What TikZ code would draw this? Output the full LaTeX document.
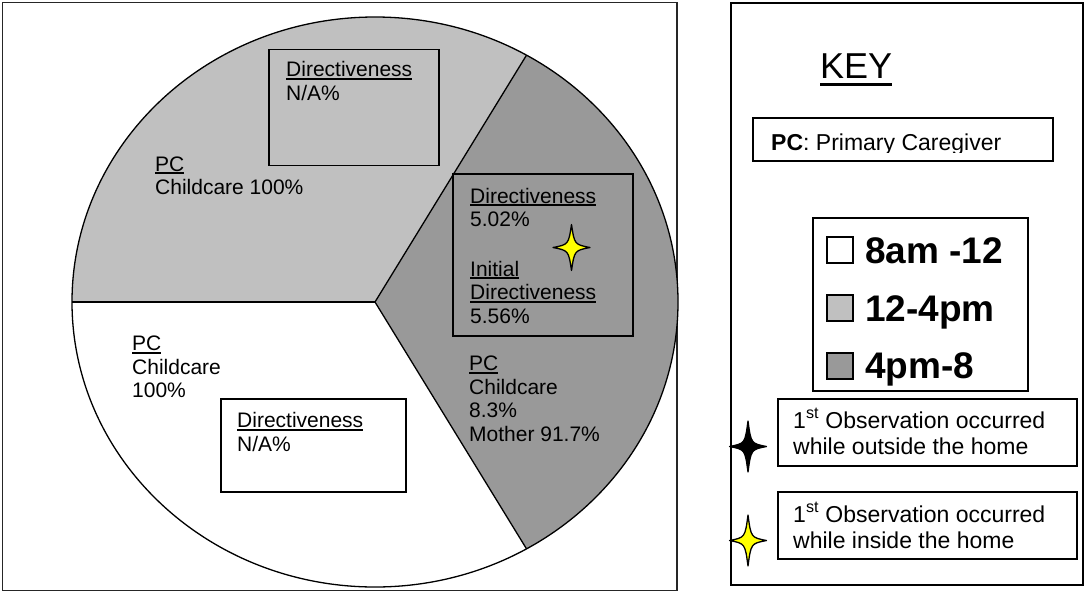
\documentclass[tikz,border=0pt]{standalone}
\usepackage{fontspec}
\setmainfont{Liberation Sans}
\definecolor{pielight}{HTML}{C0C0C0}
\definecolor{piedark}{HTML}{999999}
\definecolor{staryellow}{HTML}{FFFF00}
\newcommand\myul[1]{\setbox0=\hbox{#1}\leavevmode\rlap{\rule[-3pt]{\wd0}{1.8pt}}\box0}
\newcommand\myulk[1]{\setbox0=\hbox{#1}\leavevmode\rlap{\rule[-7.5pt]{\wd0}{3pt}}\box0}
\newcommand\fourstar[4]{%
  \begin{scope}[shift={(#1,#2)}]
    \draw[starline, fill=#3] (0,-#4) .. controls (3,-3) .. (18.5,0) .. controls (3,3) .. (0,#4)
      .. controls (-3,3) .. (-18.5,0) .. controls (-3,-3) .. (0,-#4) -- cycle;
  \end{scope}}
\tikzset{
  frameline/.style={line width=1.4pt},
  pieline/.style={line width=1.3pt, line join=round},
  boxline/.style={draw, line width=1.8pt, inner sep=0pt},
  starline/.style={line width=1.3pt, line join=round},
  txt/.style={inner sep=0pt, anchor=base west, font=\fontsize{21}{23.7}\selectfont},
  keytxt/.style={inner sep=0pt, anchor=base west, font=\fontsize{23}{26}\selectfont},
  legtxt/.style={inner sep=0pt, anchor=base west, font=\fontsize{37}{40}\selectfont\bfseries},
  sq/.style={draw, line width=1.4pt, minimum size=26pt, inner sep=0pt},
}
\begin{document}
\begin{tikzpicture}[x=1pt, y=-1pt]
\useasboundingbox (0,0) rectangle (1086,592);
% frames
\draw[frameline, draw=black!85] (2.5,2.5) rectangle (677,590.5);
\draw[frameline, line width=2pt] (731,3) rectangle (1083,585);
% pie
\coordinate (C) at (375,302);
\fill[pielight] (C) -- ++(180:303pt and 285pt) arc[start angle=180, end angle=60, x radius=303pt, y radius=285pt] -- cycle;
\fill[piedark] (C) -- ++(60:303pt and 285pt) arc[start angle=60, end angle=-60, x radius=303pt, y radius=285pt] -- cycle;
\fill[white] (C) -- ++(-60:303pt and 285pt) arc[start angle=-60, end angle=-180, x radius=303pt, y radius=285pt] -- cycle;
\draw[pieline] (C) ellipse[x radius=303pt, y radius=285pt];
\draw[pieline] (C) -- ++(180:303pt and 285pt);
\draw[pieline] (C) -- ++(60:303pt and 285pt);
\draw[pieline] (C) -- ++(-60:303pt and 285pt);
% boxes in pie
\node[boxline, minimum width=170pt, minimum height=116pt] (boxA) at (354,107.5) {};
\node[boxline, minimum width=180pt, minimum height=162pt] (boxB) at (543,255) {};
\node[boxline, minimum width=185pt, minimum height=93pt] (boxC) at (313.5,445.5) {};
% pie texts
\node[txt] (tA) at (286,76.5) {\begin{tabular}[t]{@{}l@{}}\myul{Directiveness}\\N/A\%\end{tabular}};
\node[txt] (pA) at (155,171) {\begin{tabular}[t]{@{}l@{}}\myul{PC}\\Childcare 100\%\end{tabular}};
\node[txt] (tB) at (470,203) {\begin{tabular}[t]{@{}l@{}}\myul{Directiveness}\\5.02\%\\ \\[2pt]\myul{Initial}\\\myul{Directiveness}\\5.56\%\end{tabular}};
\node[txt] (pB) at (469,370.5) {\begin{tabular}[t]{@{}l@{}}\myul{PC}\\Childcare\\8.3\%\\Mother 91.7\%\end{tabular}};
\node[txt] (pC) at (132,350.5) {\begin{tabular}[t]{@{}l@{}}\myul{PC}\\Childcare\\100\%\end{tabular}};
\node[txt] (tC) at (237,427.5) {\begin{tabular}[t]{@{}l@{}}\myul{Directiveness}\\N/A\%\end{tabular}};
\fourstar{571.5}{247.5}{staryellow}{23}
% key
\node[inner sep=0pt, anchor=base west, font=\fontsize{36}{40}\selectfont] (key) at (820,78) {\myulk{KEY}};
\node[boxline, minimum width=300pt, minimum height=43pt] (pcbox) at (903,139.5) {};
\begin{scope}
  \clip (754,119) rectangle (1052,152.5);
  \node[keytxt] (pctxt) at (771,150) {\textbf{PC}: Primary Caregiver};
\end{scope}
\node[boxline, minimum width=215pt, minimum height=173pt] (legbox) at (920.5,304.5) {};
\node[sq, fill=white] (s1) at (840,250) {};
\node[sq, fill=pielight] (s2) at (840,308) {};
\node[sq, fill=piedark] (s3) at (840,366) {};
\node[legtxt] (l1) at (865,263) {8am -12};
\node[legtxt] (l2) at (865,321) {12-4pm};
\node[legtxt] (l3) at (865,378) {4pm-8};
\node[boxline, minimum width=299pt, minimum height=67pt] (ob1) at (927.5,432.5) {};
\node[boxline, minimum width=299pt, minimum height=67pt] (ob2) at (927.5,525.5) {};
\node[keytxt] (o1) at (793,428) {\begin{tabular}[t]{@{}l@{}}1\textsuperscript{st} Observation occurred\\while outside the home\end{tabular}};
\node[keytxt] (o2) at (793,522) {\begin{tabular}[t]{@{}l@{}}1\textsuperscript{st} Observation occurred\\while inside the home\end{tabular}};
\fourstar{748}{446.5}{black}{25.5}
\fourstar{748}{540.5}{staryellow}{25.5}
\end{tikzpicture}
\end{document}
